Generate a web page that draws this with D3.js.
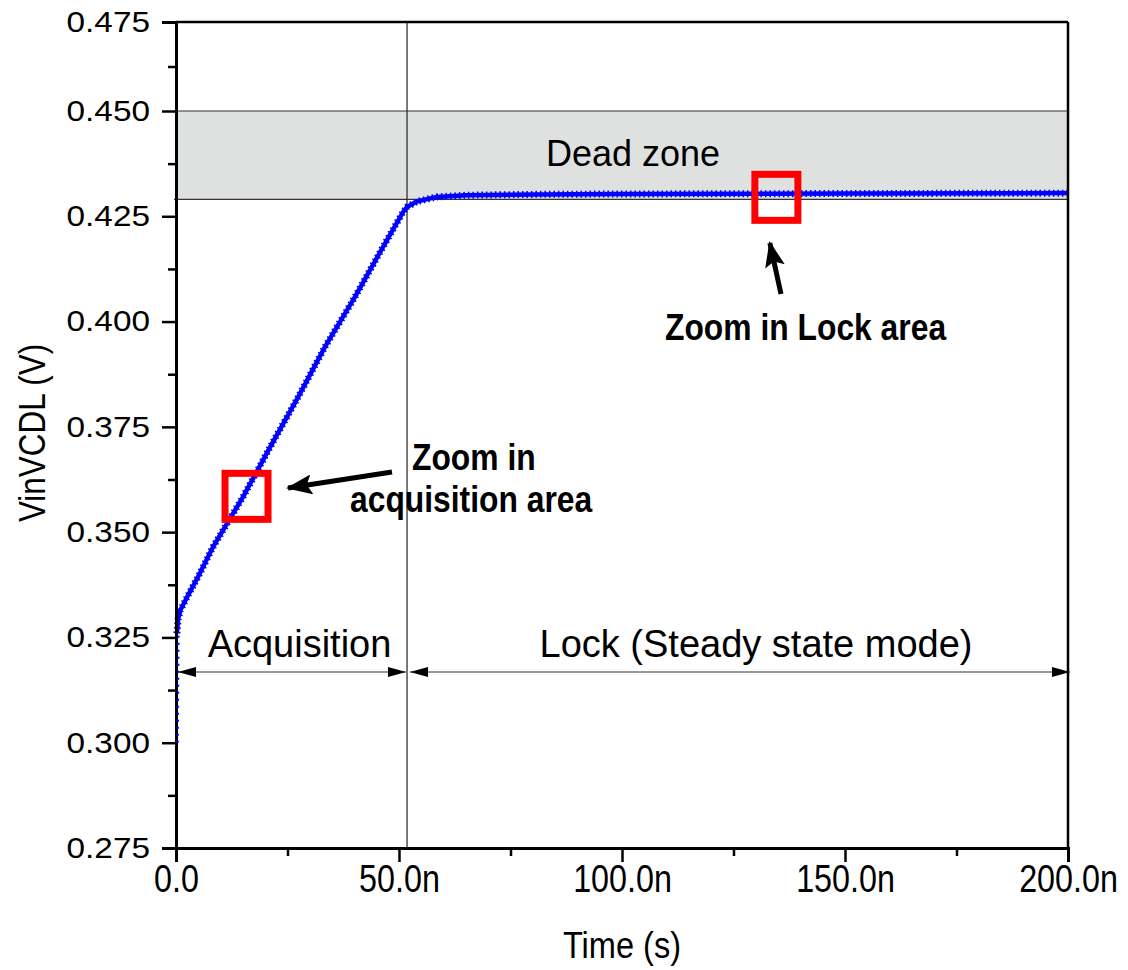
<!DOCTYPE html>
<html>
<head>
<meta charset="utf-8">
<script src="https://cdn.jsdelivr.net/npm/d3@7"></script>
<style>
  body { margin: 0; background: #fff; }
  svg text { font-family: "Liberation Sans", Arial, sans-serif; fill: #000; }
</style>
</head>
<body>
<div id="chart"></div>
<script>
// data (time in ns, voltage in V)
var timeNs  = [0, 0.1, 0.2, 0.5, 1.0, 2.5, 5.0, 8.3, 15.0, 21.1, 27.4, 33.4, 40.1, 46.4, 50.9, 51.8, 54.0, 58.5, 65.0, 80.0, 100.0, 150.0, 200.0];
var vinVcdl = [0.300, 0.312, 0.326, 0.3295, 0.3315, 0.3346, 0.3395, 0.3465, 0.3583, 0.3702, 0.3821, 0.3940, 0.4058, 0.4177, 0.4260, 0.4272, 0.4285, 0.4296, 0.4300, 0.4302, 0.4303, 0.4304, 0.4305];

var yTicks = [0.275, 0.300, 0.325, 0.350, 0.375, 0.400, 0.425, 0.450, 0.475];
var yMinor = [0.2875, 0.3125, 0.3375, 0.3625, 0.3875, 0.4125, 0.4375, 0.4625];
var xTicks = [0, 50, 100, 150, 200];
var xMinor = [25, 75, 125, 175];
var xTickLabels = ["0.0", "50.0n", "100.0n", "150.0n", "200.0n"];

var deadZone = [0.429, 0.450];
var lockStart = 51.8;
var zoomBoxes = [[15.7, 0.3585], [134.5, 0.4295]];

var data = timeNs.map(function(t, i) { return {t: t, v: vinVcdl[i]}; });

var svg = d3.select("#chart").append("svg")
  .attr("width", 1128)
  .attr("height", 970);

svg.append("rect").attr("width", 1128).attr("height", 970).attr("fill", "#fff");

// scales (the top interval is drawn shorter in the reference)
var x = d3.scaleLinear().domain([0, 200]).range([176, 1068]);
var y = d3.scaleLinear().domain([0.275, 0.450, 0.475]).range([848, 111, 22]);

// dead zone band
svg.append("rect")
  .attr("x", x(0)).attr("y", y(deadZone[1]))
  .attr("width", x(200) - x(0))
  .attr("height", y(deadZone[0]) - y(deadZone[1]))
  .attr("fill", "#dfe0e0");
deadZone.forEach(function(v) {
  svg.append("line")
    .attr("x1", x(0) - 2).attr("x2", x(200))
    .attr("y1", y(v)).attr("y2", y(v))
    .attr("stroke", "#333").attr("stroke-width", 1.2);
});

// lock boundary
svg.append("line")
  .attr("x1", x(lockStart)).attr("x2", x(lockStart))
  .attr("y1", y(0.475)).attr("y2", y(0.275))
  .attr("stroke", "#222").attr("stroke-width", 1.2);

// curve
var line = d3.line()
  .x(function(d) { return x(d.t); })
  .y(function(d) { return y(d.v); });

var rise = data.filter(function(d) { return d.t <= 0.2; });
var main = data.filter(function(d) { return d.t >= 0.2; });

svg.append("path").datum(main)
  .attr("d", line).attr("fill", "none")
  .attr("stroke", "#0000ff").attr("stroke-width", 4.5)
  .attr("stroke-linejoin", "round");

svg.append("path").datum(main)
  .attr("d", line).attr("fill", "none")
  .attr("stroke", "#0000ff").attr("stroke-width", 7)
  .attr("stroke-dasharray", "1.5,3");

// frame
svg.append("line").attr("x1", x(0)).attr("x2", x(200)).attr("y1", y(0.475)).attr("y2", y(0.475))
  .attr("stroke", "#000").attr("stroke-width", 2.5);
svg.append("line").attr("x1", x(200)).attr("x2", x(200)).attr("y1", y(0.475)).attr("y2", y(0.275))
  .attr("stroke", "#000").attr("stroke-width", 2.5);

// axes
var yAxis = svg.append("g").attr("transform", "translate(" + x(0) + ",0)")
  .call(d3.axisLeft(y).tickValues(yTicks).tickSize(14).tickPadding(12).tickFormat(d3.format(".3f")));
svg.append("g").attr("transform", "translate(" + x(0) + ",0)")
  .call(d3.axisLeft(y).tickValues(yMinor).tickSize(8).tickFormat(""))
  .select(".domain").remove();

var xAxis = svg.append("g").attr("transform", "translate(0," + y(0.275) + ")")
  .call(d3.axisBottom(x).tickValues(xTicks).tickSize(14).tickPadding(3)
    .tickFormat(function(d, i) { return xTickLabels[i]; }));
svg.append("g").attr("transform", "translate(0," + y(0.275) + ")")
  .call(d3.axisBottom(x).tickValues(xMinor).tickSize(8).tickFormat(""))
  .select(".domain").remove();

svg.selectAll(".domain").attr("stroke-width", 3);
svg.selectAll(".tick line").attr("stroke-width", 2.5);

yAxis.selectAll("text")
  .attr("font-family", "Liberation Sans, Arial, sans-serif")
  .attr("font-size", 29)
  .attr("x", -26 / 1.15)
  .attr("transform", "scale(1.15,1)");

xAxis.selectAll("text")
  .attr("font-family", "Liberation Sans, Arial, sans-serif")
  .attr("font-size", 38)
  .attr("transform", "scale(0.85,1)");

// fast initial rise, dotted over the axis line
svg.append("path").datum(rise)
  .attr("d", line).attr("fill", "none")
  .attr("transform", "translate(1.5,0)")
  .attr("stroke", "#0000ff").attr("stroke-width", 2.5)
  .attr("stroke-dasharray", "2,5");

// axis titles
svg.append("text")
  .attr("transform", "translate(622,958) scale(0.88,1)")
  .attr("text-anchor", "middle").attr("font-size", 37)
  .text("Time (s)");
svg.append("text")
  .attr("transform", "translate(45,433) rotate(-90) scale(0.85,1)")
  .attr("text-anchor", "middle").attr("font-size", 37)
  .text("VinVCDL (V)");

// arrow markers
var defs = svg.append("defs");
defs.append("marker").attr("id", "dim")
  .attr("markerUnits", "userSpaceOnUse")
  .attr("viewBox", "0 0 18 10").attr("markerWidth", 18).attr("markerHeight", 10)
  .attr("refX", 18).attr("refY", 5).attr("orient", "auto-start-reverse")
  .append("path").attr("d", "M0,0L18,5L0,10Z").attr("fill", "#000");
defs.append("marker").attr("id", "bold")
  .attr("markerUnits", "userSpaceOnUse")
  .attr("viewBox", "0 0 26 20").attr("markerWidth", 26).attr("markerHeight", 20)
  .attr("refX", 24).attr("refY", 10).attr("orient", "auto")
  .append("path").attr("d", "M0,0L26,10L0,20L5,10Z").attr("fill", "#000");

// phase dimension lines
var dimY = 672;
svg.append("line")
  .attr("x1", x(0) + 2).attr("x2", x(lockStart) - 1)
  .attr("y1", dimY).attr("y2", dimY)
  .attr("stroke", "#333").attr("stroke-width", 1.2)
  .attr("marker-start", "url(#dim)").attr("marker-end", "url(#dim)");
svg.append("line")
  .attr("x1", x(lockStart) + 3).attr("x2", x(200) + 2)
  .attr("y1", dimY).attr("y2", dimY)
  .attr("stroke", "#333").attr("stroke-width", 1.2)
  .attr("marker-start", "url(#dim)").attr("marker-end", "url(#dim)");

svg.append("text")
  .attr("x", (x(0) + x(lockStart)) / 2 + 8).attr("y", 657)
  .attr("text-anchor", "middle").attr("font-size", 38)
  .text("Acquisition");
svg.append("text")
  .attr("x", 756).attr("y", 657)
  .attr("text-anchor", "middle").attr("font-size", 38)
  .text("Lock (Steady state mode)");

svg.append("text")
  .attr("x", 633).attr("y", 166)
  .attr("text-anchor", "middle").attr("font-size", 36)
  .text("Dead zone");

// zoom boxes
svg.selectAll(".zoombox").data(zoomBoxes).enter().append("rect")
  .attr("class", "zoombox")
  .attr("x", function(d) { return x(d[0]) - 21; })
  .attr("y", function(d) { return y(d[1]) - 23; })
  .attr("width", 43).attr("height", 46)
  .attr("fill", "none").attr("stroke", "#ff0000").attr("stroke-width", 7);

// annotation arrows
svg.append("line")
  .attr("x1", 392).attr("y1", 472).attr("x2", x(zoomBoxes[0][0]) + 42).attr("y2", 488)
  .attr("stroke", "#000").attr("stroke-width", 5)
  .attr("marker-end", "url(#bold)");
svg.append("line")
  .attr("x1", 781).attr("y1", 294).attr("x2", x(zoomBoxes[1][0]) - 6).attr("y2", 243)
  .attr("stroke", "#000").attr("stroke-width", 5)
  .attr("marker-end", "url(#bold)");

function boldText(tx, ty, s) {
  svg.append("text")
    .attr("transform", "translate(" + tx + "," + ty + ") scale(0.86,1)")
    .attr("font-size", 37).attr("font-weight", "bold")
    .text(s);
}
boldText(412, 470, "Zoom in");
boldText(350, 512, "acquisition area");
boldText(665, 340, "Zoom in Lock area");
</script>
</body>
</html>
